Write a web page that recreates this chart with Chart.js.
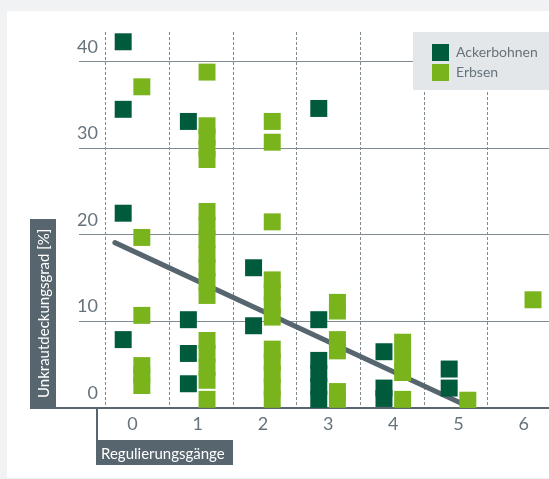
<!DOCTYPE html>
<html lang="de">
<head>
<meta charset="utf-8">
<title>Unkrautdeckungsgrad</title>
<script src="https://cdn.jsdelivr.net/npm/chart.js@4/dist/chart.umd.min.js"></script>
<style>
  html, body { margin: 0; padding: 0; background: #f0f2f4; }
  #panel { position: absolute; left: 7px; top: 11px; width: 542px; height: 467px; background: #fff; }
  canvas { display: block; }
</style>
</head>
<body>
<div id="panel"><canvas id="chart" width="542" height="467"></canvas></div>
<script>
/* --- Daten: Unkrautdeckungsgrad [%] je Regulierungsgang --- */
const X_TICKS = ['0', '1', '2', '3', '4', '5', '6'];
const Y_TICKS = [0, 10, 20, 30, 40];

// ein Eintrag je Regulierungsgang (0..6)
const ACKERBOHNEN = [
  [42.3, 34.5, 22.5, 7.9],
  [33.1, 10.2, 6.3, 2.8],
  [16.2, 9.5],
  [34.6, 10.2, 5.5, 4.0, 2.5, 1.0],
  [6.5, 2.3, 1.1],
  [4.5, 2.3],
  []
];
const ERBSEN = [
  [37.1, 19.7, 10.7, 4.9, 3.8, 2.6],
  [38.8, 32.6, 31.3, 30.0, 28.7, 22.7, 21.1, 19.5, 17.8, 16.2, 14.6, 13.0, 7.8, 6.3, 4.7, 3.2, 1.0],
  [33.1, 30.7, 21.5, 14.8, 13.4, 11.9, 10.5, 6.8, 5.3, 3.9, 2.4, 1.0],
  [12.2, 11.2, 7.9, 6.6, 1.9, 1.0],
  [7.6, 5.8, 4.1, 1.0],
  [0.9],
  [12.5]
];
// Trendlinie
const TREND_X = [-0.27, 5.2];
const TREND_Y = [19.1, 0];

/* --- Farben --- */
const C = {
  dark  : '#005a3c',
  light : '#7ab41d',
  slate : '#57656e',
  grid  : '#7f8a91',
  text  : '#66737b',
  legBg : '#e3e7ea',
};

Chart.defaults.font.family = 'Lato';
Chart.defaults.color = C.text;

const OFF = 0.143;   // Versatz der beiden Kulturen neben dem Tick
const toPoints = (rows, off) =>
  rows.flatMap((vals, i) => vals.map(v => ({ x: i + off, y: v })));

const fixTicks = vals => axis => { axis.ticks = vals.map(v => ({ value: v })); };

/* Legende in den Diagrammbereich, mit grauem Kasten */
const legendBox = {
  id: 'legendBox',
  afterLayout(chart) {
    const lg = chart.legend, ca = chart.chartArea;
    lg.left = ca.right - 120;
    lg.top = ca.top + 9;
  },
  beforeDatasetsDraw(chart) {
    const lg = chart.legend, ca = chart.chartArea, ctx = chart.ctx;
    ctx.save();
    ctx.fillStyle = C.legBg;
    ctx.fillRect(lg.left - 16, ca.top, ca.right - lg.left + 16, 58);
    ctx.restore();
    lg.draw();
  }
};

/* Achsentitel in dunklen Kästen */
const axisTitles = {
  id: 'axisTitles',
  afterDraw(chart) {
    const ctx = chart.ctx, ca = chart.chartArea;
    ctx.save();
    ctx.fillStyle = C.slate;
    // y-Titel-Kasten + Verlängerung der Nulllinie
    ctx.fillRect(ca.left - 49, ca.bottom - 189, 26, 190);
    ctx.fillRect(ca.left - 49, ca.bottom - 1, 49, 2);
    // Verbindung + x-Titel-Kasten
    ctx.fillRect(ca.left + 17, ca.bottom, 2, 33);
    ctx.fillRect(ca.left + 17, ca.bottom + 32, 137, 25);

    ctx.fillStyle = '#ffffff';
    ctx.font = '15px Lato';
    ctx.textAlign = 'left';
    ctx.textBaseline = 'alphabetic';
    ctx.fillText('Regulierungsgänge', ca.left + 22, ca.bottom + 50.5);
    ctx.translate(ca.left - 30, ca.bottom - 10);
    ctx.rotate(-Math.PI / 2);
    ctx.fillText('Unkrautdeckungsgrad [%]', 0, 0);
    ctx.restore();
  }
};

new Chart(document.getElementById('chart'), {
  data: {
    datasets: [
      {
        type: 'scatter',
        label: 'Ackerbohnen',
        data: toPoints(ACKERBOHNEN, -OFF),
        backgroundColor: C.dark,
        borderColor: C.dark,
        borderWidth: 0,
        pointStyle: 'rect',
        pointRadius: 12,
        clip: 0,
        order: 0,
      },
      {
        type: 'scatter',
        label: 'Erbsen',
        data: toPoints(ERBSEN, OFF),
        backgroundColor: C.light,
        borderColor: C.light,
        borderWidth: 0,
        pointStyle: 'rect',
        pointRadius: 12,
        clip: 0,
        order: 1,
      },
      {
        type: 'line',
        label: 'Trend',
        data: TREND_X.map((x, i) => ({ x, y: TREND_Y[i] })),
        borderColor: C.slate,
        borderWidth: 5,
        borderCapStyle: 'round',
        pointRadius: 0,
        fill: false,
        clip: 0,
        order: 2,
      }
    ]
  },
  options: {
    responsive: false,
    animation: false,
    events: [],
    layout: { autoPadding: false, padding: { left: 72, top: 21, right: 0, bottom: 0 } },
    plugins: {
      tooltip: { enabled: false },
      legend: {
        position: 'chartArea',
        align: 'start',
        labels: {
          boxWidth: 17, boxHeight: 17, padding: 3,
          color: C.text, font: { size: 14 },
          filter: item => item.datasetIndex < 2,
        }
      }
    },
    scales: {
      x: {
        type: 'linear', position: 'bottom', bounds: 'data',
        min: -0.8206, max: 6.388,
        afterBuildTicks: fixTicks(X_TICKS.map((t, i) => i)),
        afterFit: a => { a.height = 70; },
        ticks: {
          callback: (v, i) => X_TICKS[i], autoSkip: false, maxRotation: 0,
          padding: 5, color: C.text, font: { size: 18 }
        },
        grid: { display: false, drawTicks: false },
        border: { display: true, color: C.slate, width: 2 },
      },
      xg: {
        type: 'linear', position: 'bottom', bounds: 'data',
        min: -0.4193, max: 6.9625,
        afterBuildTicks: fixTicks(X_TICKS.map((t, i) => i)),
        afterFit: a => { a.height = 0; },
        ticks: { display: false },
        grid: { color: C.grid, lineWidth: 1, drawTicks: false },
        border: { display: false, dash: [3, 2] },
      },
      y: {
        type: 'linear', position: 'left', bounds: 'data',
        min: 0, max: 43.43,
        afterBuildTicks: fixTicks(Y_TICKS),
        afterFit: a => { a.width = 0; },
        ticks: {
          mirror: true, crossAlign: 'far', padding: -2, labelOffset: -15,
          color: C.text, font: { size: 18 }
        },
        grid: {
          color: ctx => ctx.tick && ctx.tick.value === 0 ? 'rgba(0,0,0,0)' : C.grid,
          lineWidth: 1, drawTicks: false
        },
        border: { display: false },
      }
    }
  },
  plugins: [legendBox, axisTitles]
});
</script>
</body>
</html>
